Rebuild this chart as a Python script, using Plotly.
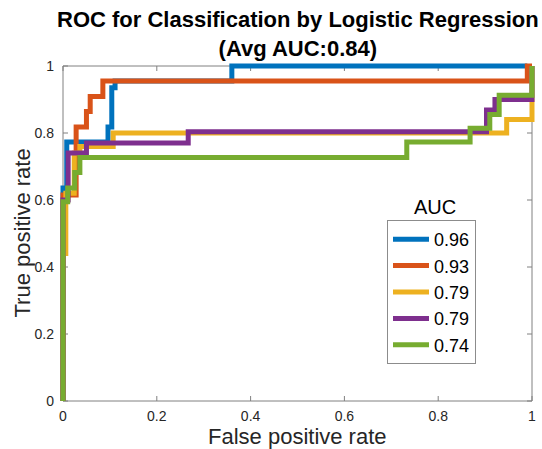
import plotly.graph_objects as go

# ---- data ----
auc_labels = ["0.96", "0.93", "0.79", "0.79", "0.74"]
colors = ["#0072BD", "#D95319", "#EDB120", "#7E2F8E", "#77AC30"]

fpr_blue = [0, 0, 0.008, 0.008, 0.096, 0.096, 0.104, 0.104, 0.111, 0.111, 0.36, 0.36, 0.99]
tpr_blue = [0, 0.636, 0.636, 0.773, 0.773, 0.818, 0.818, 0.935, 0.935, 0.955, 0.955, 1, 1]

fpr_orange = [0, 0, 0.028, 0.028, 0.05, 0.05, 0.058, 0.058, 0.085, 0.085, 0.99, 0.99, 1]
tpr_orange = [0, 0.615, 0.615, 0.818, 0.818, 0.864, 0.864, 0.909, 0.909, 0.955, 0.955, 1, 1]

fpr_yellow = [0, 0, 0.006, 0.006, 0.024, 0.024, 0.036, 0.036, 0.107, 0.107, 0.946, 0.946, 1, 1]
tpr_yellow = [0, 0.44, 0.44, 0.62, 0.62, 0.74, 0.74, 0.76, 0.76, 0.80, 0.80, 0.84, 0.84, 1]

fpr_purple = [0, 0, 0.011, 0.011, 0.05, 0.05, 0.267, 0.267, 0.903, 0.903, 0.921, 0.921, 1, 1]
tpr_purple = [0, 0.6, 0.6, 0.74, 0.74, 0.77, 0.77, 0.804, 0.804, 0.869, 0.869, 0.90, 0.90, 1]

fpr_green = [0, 0, 0.01, 0.01, 0.025, 0.025, 0.036, 0.036, 0.733, 0.733, 0.868, 0.868,
             0.91, 0.91, 0.93, 0.93, 1, 1]
tpr_green = [0, 0.595, 0.595, 0.636, 0.636, 0.682, 0.682, 0.727, 0.727, 0.773, 0.773, 0.814,
             0.814, 0.855, 0.855, 0.913, 0.913, 1]

series_x = [fpr_blue, fpr_orange, fpr_yellow, fpr_purple, fpr_green]
series_y = [tpr_blue, tpr_orange, tpr_yellow, tpr_purple, tpr_green]

tick_vals = [0, 0.2, 0.4, 0.6, 0.8, 1]
tick_text = ["0", "0.2", "0.4", "0.6", "0.8", "1"]

title_line1 = "ROC for Classification by Logistic Regression"
title_line2 = "(Avg AUC:0.84)"
x_title = "False positive rate"
y_title = "True positive rate"
legend_title = "AUC"

# ---- figure ----
W, H = 542, 449
ml, mr, mt, mb = 60, 7, 63, 45
FONT = "Liberation Sans, Arial, sans-serif"
AX = "#808080"
TXT = "#262626"

fig = go.Figure()
for i in range(len(series_x)):
    fig.add_trace(go.Scatter(
        x=series_x[i], y=series_y[i], mode="lines", name=auc_labels[i],
        legendgroup=f"g{i}",
        line=dict(color=colors[i], width=5),
    ))

shapes = [dict(type="rect", xref="x", yref="y", x0=0, x1=1, y0=0, y1=1,
               line=dict(color=AX, width=1), layer="below")]
for v in tick_vals:
    shapes.append(dict(type="line", xref="x", yref="y", x0=v, x1=v,
                       ysizemode="pixel", yanchor=0, y0=0, y1=5,
                       line=dict(color=AX, width=1), layer="below"))
    shapes.append(dict(type="line", xref="x", yref="y", x0=v, x1=v,
                       ysizemode="pixel", yanchor=1, y0=0, y1=-5,
                       line=dict(color=AX, width=1), layer="below"))
    shapes.append(dict(type="line", xref="x", yref="y", y0=v, y1=v,
                       xsizemode="pixel", xanchor=0, x0=0, x1=5,
                       line=dict(color=AX, width=1), layer="below"))
    shapes.append(dict(type="line", xref="x", yref="y", y0=v, y1=v,
                       xsizemode="pixel", xanchor=1, x0=0, x1=-5,
                       line=dict(color=AX, width=1), layer="below"))

pw = W - ml - mr
ph = H - mt - mb

annotations = [
    dict(text=f"<b>{title_line1}</b><br><b>{title_line2}</b>", xref="paper", yref="paper",
         x=(298 - ml) / pw, y=1 + (mt - 5) / ph, xanchor="center", yanchor="top",
         showarrow=False, align="center",
         font=dict(family=FONT, size=22, color="#000000")),
    dict(text=x_title, xref="paper", yref="paper", x=0.5, y=-(436 - (H - mb)) / ph,
         xanchor="center", yanchor="middle", showarrow=False,
         font=dict(family=FONT, size=22, color=TXT)),
    dict(text=y_title, xref="paper", yref="paper", x=(22 - ml) / pw, y=0.5,
         xanchor="center", yanchor="middle", showarrow=False, textangle=-90,
         font=dict(family=FONT, size=22, color=TXT)),
    dict(text=legend_title, xref="paper", yref="paper", x=(435 - ml) / pw,
         y=1 - (207 - mt) / ph, xanchor="center", yanchor="middle", showarrow=False,
         font=dict(family=FONT, size=20, color="#000000")),
]

fig.update_layout(
    width=W, height=H,
    margin=dict(l=ml, r=mr, t=mt, b=mb, pad=0),
    paper_bgcolor="white", plot_bgcolor="white",
    xaxis=dict(range=[-3 / 469, 1 + 3 / 469], tickvals=tick_vals, ticktext=tick_text,
               showgrid=False, zeroline=False, showline=False, ticks="",
               tickfont=dict(family=FONT, size=14, color=TXT), ticklabelstandoff=2),
    yaxis=dict(range=[-3 / 335, 1 + 3 / 335], tickvals=tick_vals, ticktext=tick_text,
               showgrid=False, zeroline=False, showline=False, ticks="",
               tickfont=dict(family=FONT, size=14, color=TXT), ticklabelstandoff=5),
    showlegend=True,
    legend=dict(x=(387 - ml) / pw, y=1 - (220 - mt) / ph, xanchor="left", yanchor="top",
                bgcolor="white", bordercolor="#8c8c8c", borderwidth=1,
                font=dict(family=FONT, size=18, color="#000000"),
                tracegroupgap=0, itemwidth=36, entrywidth=34, entrywidthmode="pixels"),
    shapes=shapes,
    annotations=annotations,
)

fig.write_html("out.html")
